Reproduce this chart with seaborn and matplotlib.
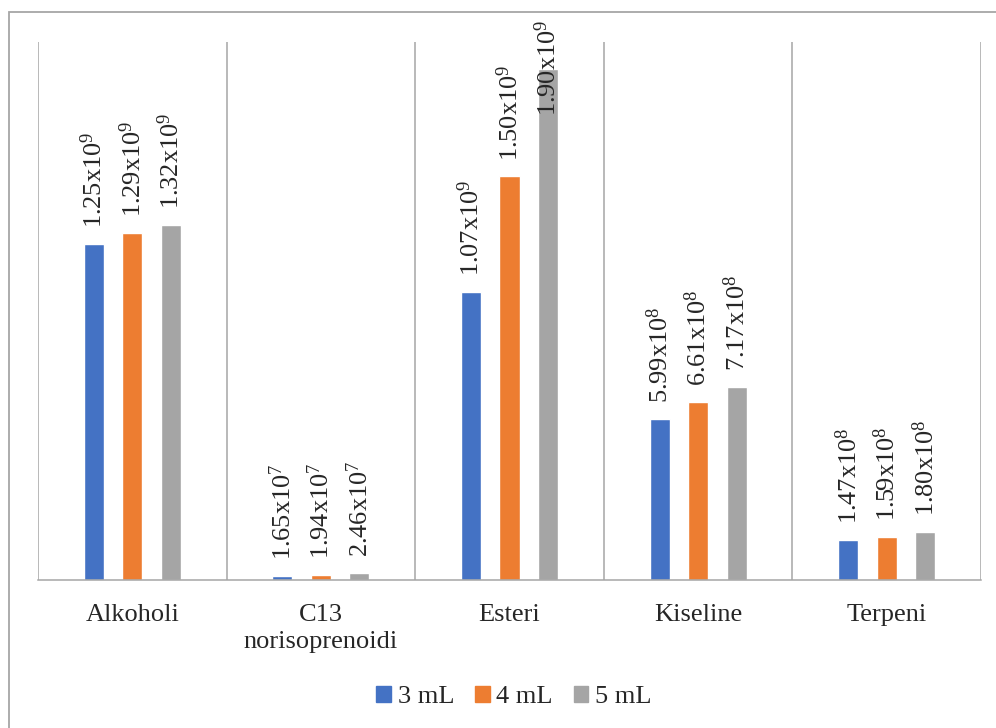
import numpy as np
import pandas as pd
import matplotlib.pyplot as plt
import matplotlib.patches as mpatches
import seaborn as sns

sns.set_style('white')
plt.rcParams['font.family'] = ['Liberation Serif', 'DejaVu Serif']
plt.rcParams['mathtext.default'] = 'regular'

# Data
categories = ['Alkoholi', 'C13\nnorisoprenoidi', 'Esteri', 'Kiseline', 'Terpeni']
series = ['3 mL', '4 mL', '5 mL']
vals_3ml = [1.25e9, 1.65e7, 1.07e9, 5.99e8, 1.47e8]
vals_4ml = [1.29e9, 1.94e7, 1.50e9, 6.61e8, 1.59e8]
vals_5ml = [1.32e9, 2.46e7, 1.90e9, 7.17e8, 1.80e8]
colors = ['#4472C4', '#ED7D31', '#A5A5A5']
YMAX = 2.0e9
FS = 19

df = pd.DataFrame({
    'kategorija': categories * 3,
    'volumen': np.repeat(series, len(categories)),
    'vrijednost': vals_3ml + vals_4ml + vals_5ml,
})

fig = plt.figure(figsize=(9.96, 7.28), dpi=100)
ax = fig.add_axes([38/996, 1 - 580/728, (981 - 38)/996, (580 - 42)/728])

sns.barplot(data=df, x='kategorija', y='vrijednost', hue='volumen',
            palette=colors, saturation=1, width=0.612, gap=0.48, ax=ax,
            legend=False)

ax.set_xlim(-0.5, 4.5)
ax.set_ylim(0, YMAX)
ax.set_yticks([])
ax.set_xlabel('')
ax.set_ylabel('')
ax.set_xticks(np.arange(-0.5, 5, 1), minor=True)
ax.grid(which='minor', axis='x', color='#a6a6a6', lw=1.1)
ax.grid(which='major', visible=False)
ax.tick_params(which='both', length=0)
ax.tick_params(axis='x', which='major', labelsize=FS, pad=17)
for lbl in ax.get_xticklabels():
    lbl.set_linespacing(1.3)
for s in ['top', 'left', 'right']:
    ax.spines[s].set_visible(False)
ax.spines['bottom'].set_color('#a6a6a6')
ax.spines['bottom'].set_linewidth(1.1)

# data labels
for cont, vals in zip(ax.containers, [vals_3ml, vals_4ml, vals_5ml]):
    for bar, v in zip(cont, vals):
        e = int(np.floor(np.log10(v)))
        txt = f'{v / 10**e:.2f}x10$^{{{e}}}$'
        xc = bar.get_x() + bar.get_width() / 2
        if v > 0.85 * YMAX:
            ax.annotate(txt, (xc, 1 + 22/538), xycoords=('data', 'axes fraction'),
                        rotation=90, ha='center', va='top', fontsize=FS,
                        annotation_clip=False)
        else:
            ax.annotate(txt, (xc, v), xytext=(0, 11.5), textcoords='offset points',
                        rotation=90, ha='center', va='bottom', fontsize=FS)

handles = [mpatches.Patch(color=c, label=s) for c, s in zip(colors, series)]
fig.legend(handles=handles, loc='center', bbox_to_anchor=(514/996, 1 - 697/728),
           ncol=3, frameon=False, fontsize=FS, handlelength=0.55,
           handleheight=0.55, handletextpad=0.25, columnspacing=0.8)

# outer chart border
fig.patches.append(mpatches.Rectangle((9/996, -0.05), 1.1, 1 - 12/728 + 0.05,
                                      transform=fig.transFigure, fill=False,
                                      edgecolor='#a6a6a6', lw=1.3))

fig.savefig('out.png', dpi=100)
